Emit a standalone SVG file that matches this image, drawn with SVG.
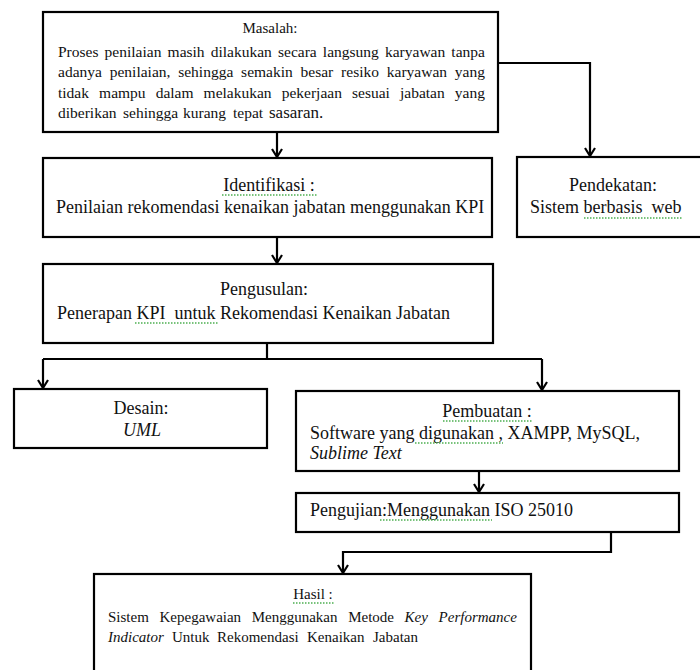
<svg xmlns="http://www.w3.org/2000/svg" width="700" height="670" viewBox="0 0 700 670">
  <defs>
    <marker id="arr" markerUnits="userSpaceOnUse" markerWidth="14" markerHeight="14" refX="9" refY="6" orient="auto">
      <path d="M1,1 L9,6 L1,11" fill="none" stroke="#000" stroke-width="2.2"/>
    </marker>
    <style>
      .box { fill: #fff; stroke: #000; stroke-width: 2.2; }
      .con { fill: none; stroke: #000; stroke-width: 2.2; }
      .t { font-family: "Liberation Serif", "Times New Roman", serif; fill: #111; }
      .s15 { font-size: 15px; }
      .s155 { font-size: 15.5px; }
      .s18 { font-size: 18px; }
      .mid { text-anchor: middle; }
      .it { font-style: italic; }
      .sq { fill: none; stroke: #4caf50; stroke-width: 1.3; stroke-dasharray: 1.5 1.5; }
    </style>
  </defs>
  <rect width="700" height="670" fill="#fff"/>

  <g id="connectors">
    <path class="con" d="M277,132 V157" marker-end="url(#arr)"/>
    <path class="con" d="M498,63 H590 V156" marker-end="url(#arr)"/>
    <path class="con" d="M277,237 V263" marker-end="url(#arr)"/>
    <path class="con" d="M267,343 V359"/>
    <path class="con" d="M43,359 H542"/>
    <path class="con" d="M43,359 V388" marker-end="url(#arr)"/>
    <path class="con" d="M542,359 V390" marker-end="url(#arr)"/>
    <path class="con" d="M479,471 V492" marker-end="url(#arr)"/>
    <path class="con" d="M611,532 V552 H343 V573" marker-end="url(#arr)"/>
  </g>

  <g id="masalah">
    <rect class="box" x="43" y="12" width="455" height="120"/>
    <text class="t s15 mid" x="270" y="33">Masalah:</text>
    <text class="t s155" x="58" y="57" word-spacing="2.27">Proses penilaian masih dilakukan secara langsung karyawan tanpa</text>
    <text class="t s155" x="58" y="77" word-spacing="3.94">adanya penilaian, sehingga semakin besar resiko karyawan yang</text>
    <text class="t s155" x="58" y="98" word-spacing="6.21">tidak mampu dalam melakukan pekerjaan sesuai jabatan yang</text>
    <text class="t s155" y="118"><tspan x="58">diberikan</tspan><tspan x="123">sehingga</tspan><tspan x="183">kurang</tspan><tspan x="233">tepat</tspan><tspan x="269" font-size="17">sasaran.</tspan></text>
  </g>

  <g id="identifikasi">
    <rect class="box" x="43" y="158" width="449" height="79"/>
    <text class="t s18 mid" x="269" y="191">Identifikasi :</text>
    <text class="t s18" x="56" y="213">Penilaian rekomendasi kenaikan jabatan menggunakan KPI</text>
    <path class="sq" d="M222,195 H317"/>
  </g>

  <g id="pendekatan">
    <rect class="box" x="517" y="157" width="200" height="80"/>
    <text class="t s18 mid" x="613" y="191">Pendekatan:</text>
    <text class="t s18" x="530" y="213">Sistem berbasis&#160; web</text>
    <path class="sq" d="M584,218 H682"/>
  </g>

  <g id="pengusulan">
    <rect class="box" x="43" y="264" width="450" height="79"/>
    <text class="t s18 mid" x="264" y="295">Pengusulan:</text>
    <text class="t s18" x="57" y="319">Penerapan KPI&#160; untuk Rekomendasi Kenaikan Jabatan</text>
    <path class="sq" d="M135,323 H218"/>
  </g>

  <g id="desain">
    <rect class="box" x="14" y="389" width="253" height="59"/>
    <text class="t s18 mid" x="141" y="414">Desain:</text>
    <text class="t s18 mid it" x="142" y="436">UML</text>
  </g>

  <g id="pembuatan">
    <rect class="box" x="296" y="391" width="383" height="80"/>
    <text class="t s18 mid" x="487" y="417">Pembuatan :</text>
    <text class="t s18" x="310" y="439">Software yang digunakan , XAMPP, MySQL,</text>
    <text class="t s18 it" x="310" y="459">Sublime Text</text>
    <path class="sq" d="M443,421 H532"/>
    <path class="sq" d="M415,443 H503"/>
  </g>

  <g id="pengujian">
    <rect class="box" x="296" y="493" width="383" height="39"/>
    <text class="t s18" x="310" y="516">Pengujian:Menggunakan ISO 25010</text>
    <path class="sq" d="M380,520 H492"/>
  </g>

  <g id="hasil">
    <rect class="box" x="94" y="574" width="437" height="120"/>
    <text class="t s15 mid" x="313" y="599">Hasil :</text>
    <text class="t s15" y="622"><tspan x="108">Sistem</tspan><tspan x="159.5">Kepegawaian</tspan><tspan x="251.7">Menggunakan</tspan><tspan x="348.2">Metode</tspan><tspan x="404.6" class="it">Key</tspan><tspan x="438.6" class="it">Performance</tspan></text>
    <text class="t s15" y="642"><tspan x="108" class="it">Indicator</tspan><tspan x="172">Untuk</tspan><tspan x="217">Rekomendasi</tspan><tspan x="307">Kenaikan</tspan><tspan x="373">Jabatan</tspan></text>
    <path class="sq" d="M293,603 H334"/>
  </g>
</svg>
